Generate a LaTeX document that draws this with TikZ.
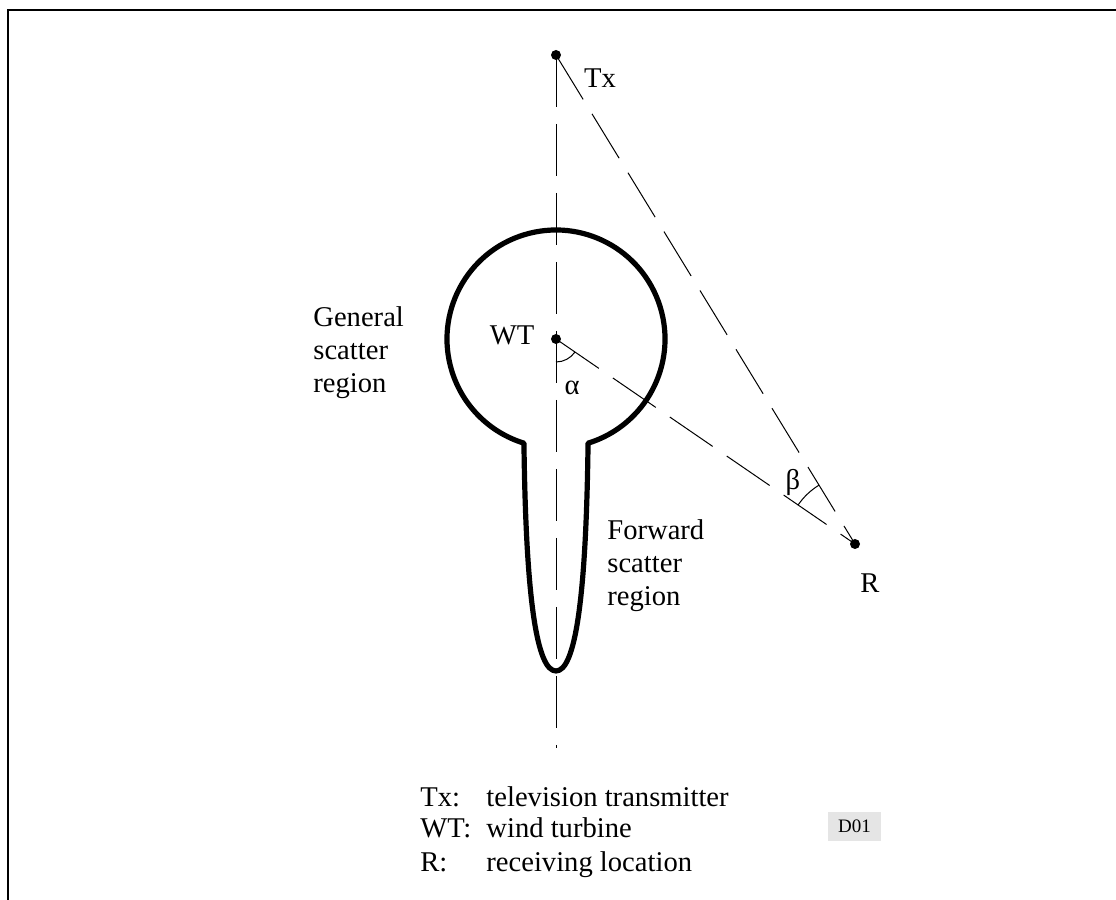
\documentclass[tikz,border=0pt]{standalone}
\usepackage{fontspec}
\setmainfont{Liberation Serif}
\begin{document}
\begin{tikzpicture}[x=0.5pt,y=0.5pt,
  dline/.style={line width=0.5pt, dash pattern=on 26pt off 8.5pt},
  thinline/.style={line width=0.5pt},
  dot/.style={circle, fill, inner sep=0pt, minimum size=5pt},
  lbl/.style={font=\fontsize{14.3}{16.5}\selectfont, inner sep=0pt},
  pattern/.style={line width=2.6pt, line join=round}]
\useasboundingbox (0,0) rectangle (1116,900);
\draw[line width=1pt] (1116,890) -- (8,890) -- (8,0);
% points
\node[dot] (Tx) at (556,845) {};
\node[dot] (WT) at (556,561) {};
\node[dot] (R) at (855,356) {};
\coordinate (vend) at (556,152);
% dashed lines
\draw[dline] (Tx.center) -- (vend);
\draw[dline] (Tx.center) -- (R.center);
\draw[dline] (WT.center) -- (R.center);
% angle arcs
\draw[thinline] ([shift={(-90:11.5pt)}]WT.center) arc[start angle=-90, end angle=-34.44, radius=11.5pt];
\draw[thinline] ([shift={(121.45:34.5pt)}]R.center) arc[start angle=121.45, end angle=145.56, radius=34.5pt];
% scatter pattern
\draw[pattern] (588,456.8) arc[start angle=-72.93, end angle=252.93, radius=54.5pt]
  -- (524,453) .. controls (526,300) and (537,229) .. (556,229)
  .. controls (575,229) and (586,300) .. (588,453) -- cycle;
% labels
\node[lbl] (txl) at (600,822) {Tx};
\node[lbl] (wtl) at (512,565) {WT};
\node[lbl] (rl) at (870,317) {R};
\node[lbl] (al) at (572,512) {α};
\node[lbl] (bl) at (793,418) {β};
\node[lbl, anchor=base west, align=left] (gen) at (313,507) {General\\scatter\\region};
\node[lbl, anchor=base west, align=left] (fwd) at (607,294) {Forward\\scatter\\region};
% legend
\node[lbl, anchor=base west] (k1) at (420,93) {Tx:};
\node[lbl, anchor=base west] (v1) at (486,93) {television transmitter};
\node[lbl, anchor=base west] (k2) at (420,62) {WT:};
\node[lbl, anchor=base west] (v2) at (486,62) {wind turbine};
\node[lbl, anchor=base west] (k3) at (420,28) {R:};
\node[lbl, anchor=base west] (v3) at (486,28) {receiving location};
\node[fill=black!10, minimum width=26.5pt, minimum height=14.5pt, inner sep=0pt, font=\fontsize{9.5}{11}\selectfont] (d01) at (854.5,73.5) {D01};
\end{tikzpicture}
\end{document}
